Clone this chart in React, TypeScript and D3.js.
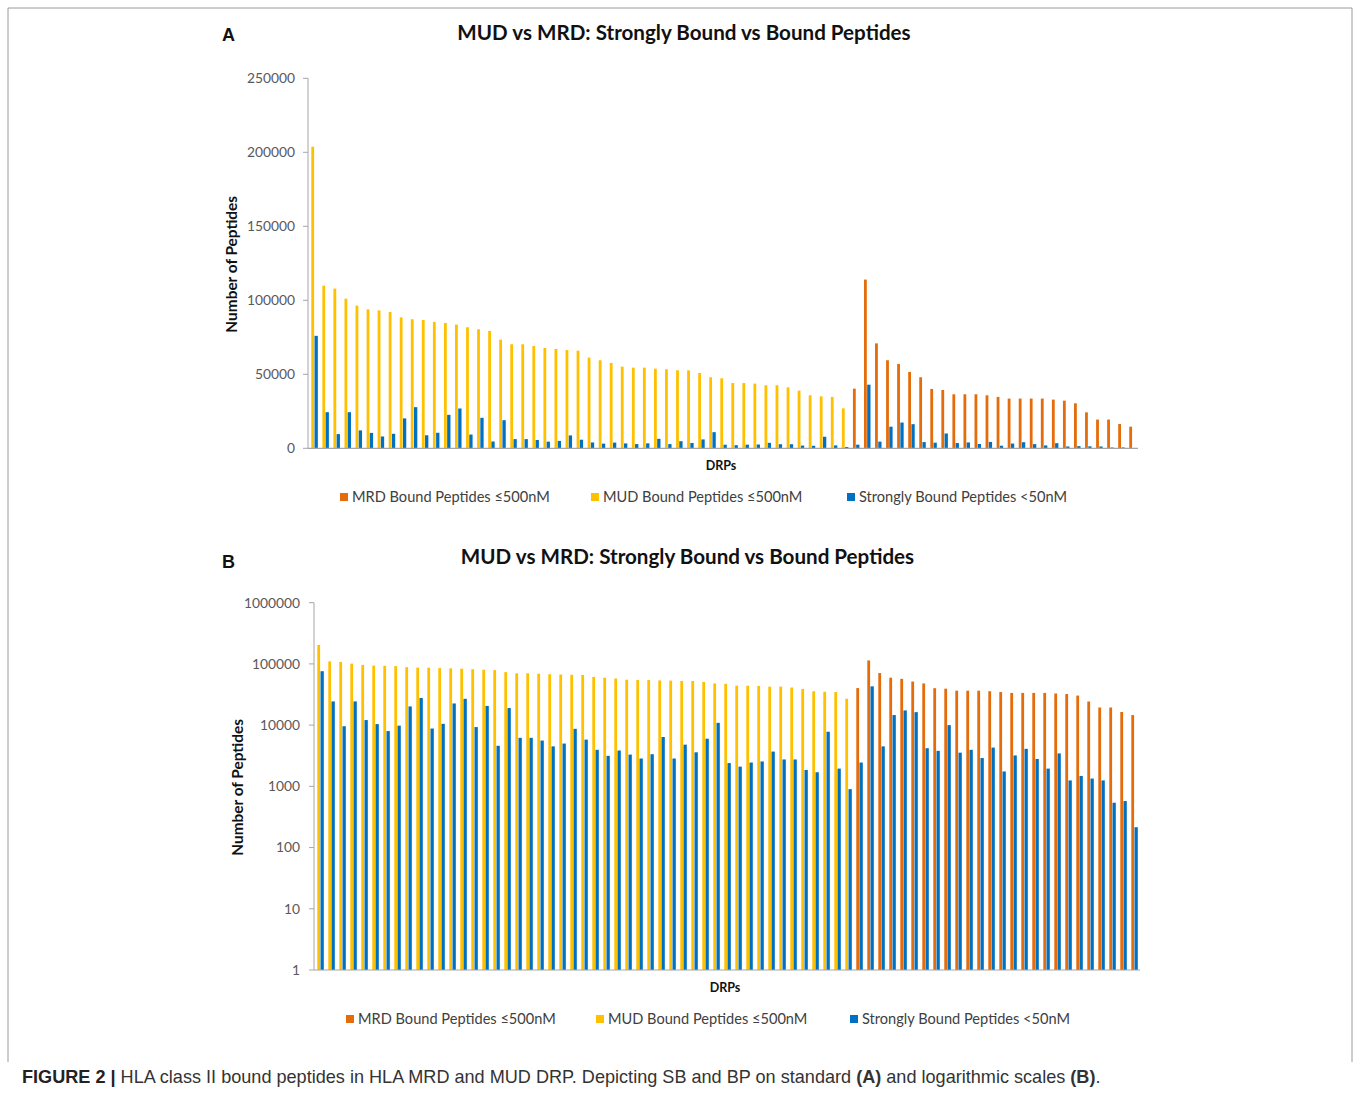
import * as d3 from "d3";

// values, DRPs sorted as in the source
const MUD_BOUND = [
  203800, 109900, 107900, 101100, 96400, 93900, 93200, 92100, 88500, 87200,
  86700, 85400, 84700, 83600, 81800, 80400, 79300, 73400, 70300, 70300,
  69100, 67800, 67100, 66400, 66000, 61300, 59500, 57700, 55200, 54500,
  54500, 53800, 53400, 52700, 52700, 50900, 48000, 47300, 44100, 44100,
  43700, 42600, 42600, 41200, 39000, 35800, 35100, 34700, 27000,
];
const MRD_BOUND = [
  40300, 114000, 70900, 59500, 57000, 51600, 48000, 40100, 39400, 36500,
  36500, 36500, 35800, 34700, 33600, 33600, 33600, 33600, 32900, 32200,
  30400, 24300, 19400, 19400, 16400, 14600,
];
const STRONG_BOUND = [
  76000, 24400, 9600, 24400, 12100, 10400, 8000, 9800, 20200, 27800,
  8800, 10500, 22600, 26900, 9300, 20600, 4600, 19000, 6200, 6200,
  5600, 4500, 5000, 8700, 5800, 3950, 3150, 3850, 3300, 2850,
  3350, 6400, 2850, 4800, 3600, 6000, 10900, 2400, 2100, 2450,
  2550, 3700, 2750, 2750, 1850, 1700, 7800, 1950, 900, 2450,
  43000, 4500, 14600, 17400, 16300, 4200, 3800, 10000, 3550, 3950,
  2900, 4300, 1750, 3200, 4100, 2800, 1950, 3450, 1250, 1480,
  1340, 1250, 540, 575, 215,
];
const LINEAR_TICKS = [0, 50000, 100000, 150000, 200000, 250000];
const LOG_TICKS = [1, 10, 100, 1000, 10000, 100000, 1000000];
const TITLE = "MUD vs MRD: Strongly Bound vs Bound Peptides";
const LEGEND = [
  { key: "mrd", label: "MRD Bound Peptides \u2264500nM" },
  { key: "mud", label: "MUD Bound Peptides \u2264500nM" },
  { key: "sb", label: "Strongly Bound Peptides <50nM" },
];

const COLORS: Record<string, string> = {
  mrd: "#E46C0A",
  mud: "#FFC000",
  sb: "#0070C0",
};
const FONT = "Lato, 'Open Sans', sans-serif";

type Row = { id: string; group: "mud" | "mrd"; bound: number; strong: number };

const rows: Row[] = [
  ...MUD_BOUND.map((v) => ({ group: "mud" as const, bound: v })),
  ...MRD_BOUND.map((v) => ({ group: "mrd" as const, bound: v })),
].map((r, i) => ({ ...r, id: `DRP${i + 1}`, strong: STRONG_BOUND[i] }));

type PanelProps = {
  letter: string;
  letterY: number;
  top: number; // y of the title row
  titleX: number;
  left: number;
  right: number;
  y0: number;
  y1: number;
  log: boolean;
  labelGap: number;
  legendX: number[];
  legendY: number;
};

function Panel(p: PanelProps) {
  const x = d3
    .scaleBand<string>()
    .domain(rows.map((r) => r.id))
    .range([p.left + 1, p.right]);
  const y = p.log
    ? d3.scaleLog().domain([1, 1000000]).range([p.y1, p.y0])
    : d3.scaleLinear().domain([0, 250000]).range([p.y1, p.y0]);
  const ticks = p.log ? LOG_TICKS : LINEAR_TICKS;
  const base = p.log ? 1 : 0;

  return (
    <g>
      <text x={222} y={p.letterY} fontFamily="'Liberation Sans', Arial" fontWeight="bold" fontSize={18} fill="#111">
        {p.letter}
      </text>
      <text
        x={p.titleX}
        y={p.top + 7}
        textAnchor="middle"
        fontFamily={FONT}
        fontWeight="bold"
        fontSize={20.6}
        fill="#111"
      >
        {TITLE}
      </text>

      {/* bars */}
      {rows.map((r) => {
        const c = x(r.id)! + x.bandwidth() / 2;
        return (
          <g key={r.id}>
            <rect
              x={c - 3.2}
              width={2.8}
              y={y(r.bound)}
              height={y(base) - y(r.bound)}
              fill={COLORS[r.group]}
            />
            <rect
              x={c}
              width={3.3}
              y={y(r.strong)}
              height={y(base) - y(r.strong)}
              fill={COLORS.sb}
            />
          </g>
        );
      })}

      {/* y axis */}
      <line x1={p.left} x2={p.left} y1={p.y0} y2={p.y1} stroke="#A6A6A6" strokeWidth={1} />
      {ticks.map((t) => (
        <g key={t}>
          <line x1={p.left - 5} x2={p.left} y1={y(t)} y2={y(t)} stroke="#A6A6A6" />
          <text
            x={p.left - p.labelGap}
            y={y(t)}
            dy="0.35em"
            textAnchor="end"
            fontFamily={FONT}
            fontSize={13.8}
            fill="#595959"
          >
            {t}
          </text>
        </g>
      ))}
      <line x1={p.left} x2={p.right} y1={p.y1} y2={p.y1} stroke="#A6A6A6" strokeWidth={1.2} />

      <text
        transform={`translate(${p.left - 71},${(p.y0 + p.y1) / 2 + 1}) rotate(-90)`}
        textAnchor="middle"
        fontFamily={FONT}
        fontWeight="bold"
        fontSize={15.4}
        fill="#111"
      >
        Number of Peptides
      </text>
      <text
        x={(p.left + p.right) / 2 - 2}
        y={p.y1 + 22}
        textAnchor="middle"
        fontFamily={FONT}
        fontWeight="bold"
        fontSize={12.5}
        fill="#111"
      >
        DRPs
      </text>

      {/* legend */}
      {LEGEND.map((l, i) => (
        <g key={l.key} transform={`translate(${p.legendX[i]},${p.legendY})`}>
          <rect x={0} y={-4} width={8} height={8} fill={COLORS[l.key]} />
          <text x={12} y={0} dy="0.35em" fontFamily={FONT} fontSize={14.6} fill="#404040">
            {l.label}
          </text>
        </g>
      ))}
    </g>
  );
}

export default function App() {
  return (
    <svg
      width={1360}
      height={1095}
      style={{ position: "absolute", left: 0, top: 0, background: "#fff" }}
    >
      <path d="M8,1062V8H1352V1062" fill="none" stroke="#9a9a9a" strokeWidth={1} />
      <Panel
        letter="A"
        letterY={41}
        top={33}
        titleX={684}
        left={308}
        right={1138}
        y0={78.3}
        y1={448.3}
        log={false}
        labelGap={13}
        legendX={[340, 591, 847]}
        legendY={497}
      />
      <Panel
        letter="B"
        letterY={568}
        top={557}
        titleX={687.5}
        left={314}
        right={1140}
        y0={602.7}
        y1={970}
        log={true}
        labelGap={14}
        legendX={[346, 596, 850]}
        legendY={1019}
      />
      <text x={22} y={1083} fontFamily="'Liberation Sans', Arial" fontSize={18.1} fill="#333">
        <tspan fontWeight="bold" fill="#222">FIGURE 2 |</tspan>
        <tspan> HLA class II bound peptides in HLA MRD and MUD DRP. Depicting SB and BP on standard </tspan>
        <tspan fontWeight="bold">(A)</tspan>
        <tspan> and logarithmic scales </tspan>
        <tspan fontWeight="bold">(B)</tspan>
        <tspan>.</tspan>
      </text>
    </svg>
  );
}
